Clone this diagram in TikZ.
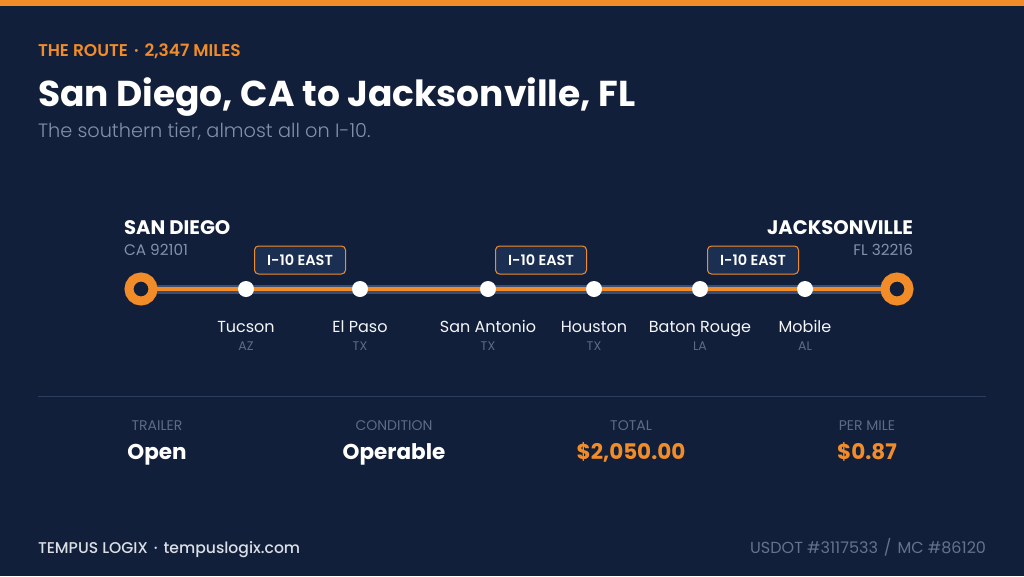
\documentclass[tikz,border=0pt]{standalone}
\usepackage{fontspec}
\setmainfont{Poppins}
\newfontfamily\poplight{Poppins}[UprightFont=* Light, BoldFont=* Medium]
\newfontfamily\popsemi{Poppins}[UprightFont=* SemiBold]
\newfontfamily\popmed{Poppins}[UprightFont=* Medium]
\definecolor{bg}{HTML}{111F3B}
\definecolor{org}{HTML}{F28C28}
\definecolor{sub}{HTML}{8290AA}
\definecolor{dim}{HTML}{5E6B85}
\definecolor{band}{HTML}{3A4E74}
\definecolor{boxfill}{HTML}{1B2F52}
\definecolor{rule}{HTML}{2C3D5E}
\begin{document}
\begin{tikzpicture}[x=1pt,y=-1pt,
  txt/.style={inner sep=0pt, outer sep=0pt},
  stop/.style={circle, fill=white, minimum size=16pt, inner sep=0pt},
  endpt/.style={circle, draw=org, line width=9pt, fill=bg, minimum size=24pt, inner sep=0pt},
  hwy/.style={draw=org, fill=boxfill, rounded corners=4pt, line width=1pt, minimum width=91pt, minimum height=28pt, inner sep=0pt, text=white, font=\popsemi\fontsize{14.5}{14.5}\selectfont},
  city/.style={txt, anchor=base, text=white!92!sub, font=\fontsize{16}{16}\selectfont},
  state/.style={txt, anchor=base, text=dim, font=\fontsize{12.5}{12.5}\selectfont},
  statlabel/.style={txt, anchor=base, text=dim, font=\fontsize{14}{14}\selectfont},
  statval/.style={txt, anchor=base, font=\bfseries\fontsize{21.5}{21.5}\selectfont}]
\useasboundingbox (0,0) rectangle (1024,576);
\fill[bg] (0,0) rectangle (1024,576);
\fill[org] (0,0) rectangle (1024,6);
% header
\node[txt, anchor=base west, text=org, font=\popsemi\fontsize{17}{17}\selectfont] (kicker) at (38,56) {THE ROUTE\hspace{6pt}·\hspace{6pt}2,347 MILES};
\node[txt, anchor=base west, text=white, font=\bfseries\fontsize{36}{36}\selectfont] (title) at (38,106) {San Diego, CA to Jacksonville, FL};
\node[txt, anchor=base west, text=sub, font=\poplight\fontsize{19.3}{19.3}\selectfont] (subtitle) at (38,137) {The southern tier, almost all on I-10.};
% route line
\coordinate (L) at (141,289);
\coordinate (R) at (897,289);
\draw[band, line width=9pt] (L) -- (R);
\draw[org, line width=4pt] (L) -- (R);
\node[endpt] (sd) at (L) {};
\node[endpt] (jx) at (R) {};
\foreach \n/\x/\c/\s in {tuc/246/Tucson/AZ, elp/360/El Paso/TX, san/488/San Antonio/TX, hou/594/Houston/TX, bat/700/Baton Rouge/LA, mob/805/Mobile/AL}{
  \node[stop] (\n) at (\x,289) {};
  \node[city] (\n-name) at (\x,332) {\c};
  \node[state] (\n-st) at (\x,350) {\s};
}
\node[hwy] (h1) at (300,260) {I-10 EAST};
\node[hwy] (h2) at (541,260) {I-10 EAST};
\node[hwy] (h3) at (753,260) {I-10 EAST};
% endpoints labels
\node[txt, anchor=base west, text=white, font=\bfseries\fontsize{19.6}{19.6}\selectfont] (sdname) at (124,234) {SAN DIEGO};
\node[txt, anchor=base west, text=sub, font=\fontsize{15.3}{15.3}\selectfont] (sdzip) at (124,255) {CA 92101};
\node[txt, anchor=base east, text=white, font=\bfseries\fontsize{19.6}{19.6}\selectfont] (jxname) at (913,234) {JACKSONVILLE};
\node[txt, anchor=base east, text=sub, font=\fontsize{15.3}{15.3}\selectfont] (jxzip) at (913,255) {FL 32216};
% divider
\draw[rule, line width=1pt] (38,396) -- (986,396);
% stats
\node[statlabel] (l1) at (157,430) {TRAILER};
\node[statval, text=white] (v1) at (157,459) {Open};
\node[statlabel] (l2) at (394,430) {CONDITION};
\node[statval, text=white] (v2) at (394,459) {Operable};
\node[statlabel] (l3) at (631,430) {TOTAL};
\node[statval, text=org] (v3) at (631,459) {\$2,050.00};
\node[statlabel] (l4) at (867,430) {PER MILE};
\node[statval, text=org] (v4) at (867,459) {\$0.87};
% footer
\node[txt, anchor=base west, text=white!70!sub, font=\popmed\fontsize{15.6}{15.6}\selectfont] (brand) at (38,553) {TEMPUS LOGIX\hspace{6pt}·\hspace{6pt}tempuslogix.com};
\node[txt, anchor=base east, text=dim!80!sub, font=\fontsize{16}{16}\selectfont] (usdot) at (986,553) {USDOT \#3117533\hspace{6pt}/\hspace{6pt}MC \#86120};
\end{tikzpicture}
\end{document}
